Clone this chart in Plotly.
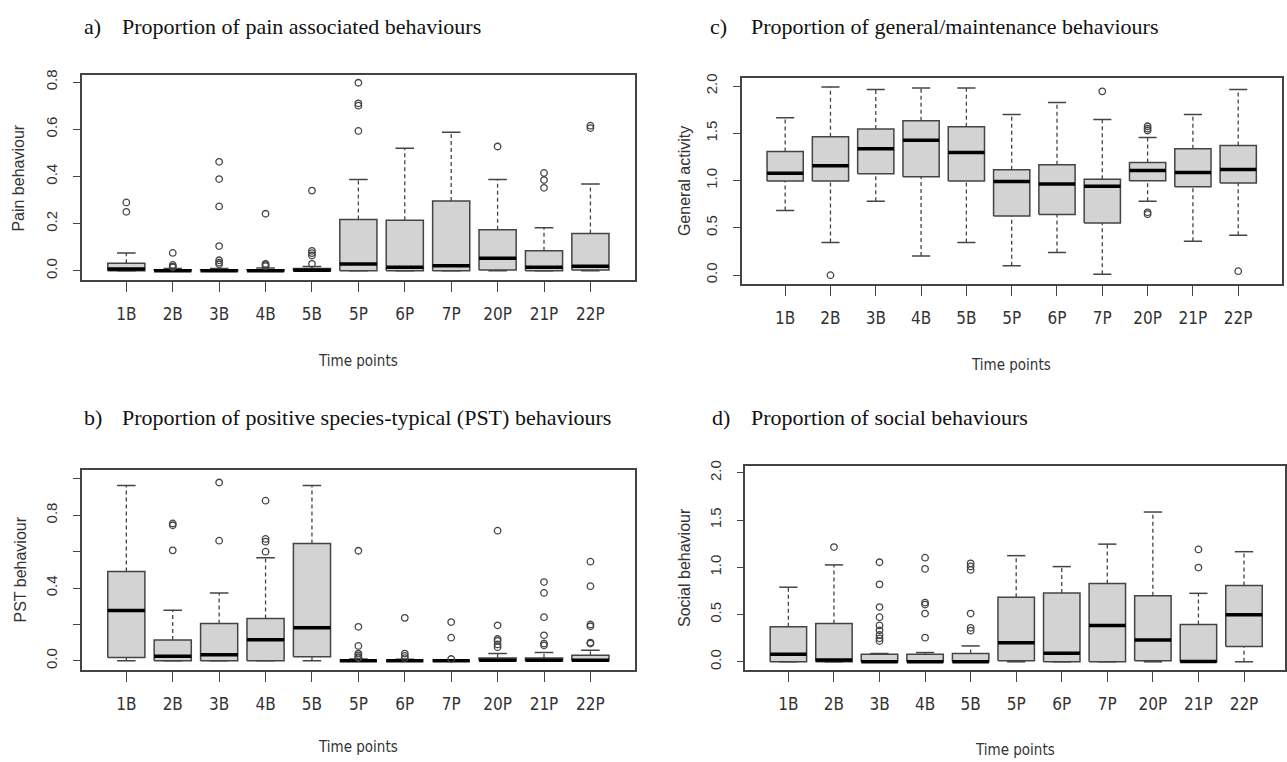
import plotly.graph_objects as go

W, H = 1287, 762

categories = ["1B", "2B", "3B", "4B", "5B", "5P", "6P", "7P", "20P", "21P", "22P"]

# ---- a) pain associated behaviours ----
pain_q1 = [0.0, 0.0, 0.0, 0.0, 0.0, 0.0, 0.0, 0.0, 0.004, 0.0, 0.004]
pain_med = [0.008, 0.0, 0.0, 0.0, 0.003, 0.029, 0.015, 0.022, 0.053, 0.015, 0.02]
pain_q3 = [0.032, 0.005, 0.005, 0.005, 0.01, 0.218, 0.214, 0.296, 0.174, 0.085, 0.158]
pain_lo = [0.0] * 11
pain_hi = [0.076, 0.01, 0.01, 0.012, 0.018, 0.387, 0.52, 0.587, 0.387, 0.183, 0.368]
pain_out = [
    [0.29, 0.25],
    [0.076, 0.025, 0.018, 0.015],
    [0.462, 0.389, 0.273, 0.105, 0.045, 0.035, 0.028],
    [0.242, 0.03, 0.025, 0.02],
    [0.34, 0.085, 0.075, 0.065, 0.03],
    [0.797, 0.71, 0.70, 0.593],
    [],
    [],
    [0.527],
    [0.415, 0.385, 0.352],
    [0.615, 0.605],
]

# ---- b) positive species-typical behaviours ----
pst_q1 = [0.018, 0.0, 0.0, 0.0, 0.022, 0.0, 0.0, 0.0, 0.0, 0.0, 0.0]
pst_med = [0.276, 0.025, 0.033, 0.116, 0.182, 0.0, 0.0, 0.0, 0.003, 0.003, 0.003]
pst_q3 = [0.491, 0.115, 0.205, 0.233, 0.645, 0.003, 0.003, 0.003, 0.015, 0.015, 0.03]
pst_lo = [0.0] * 11
pst_hi = [0.964, 0.278, 0.373, 0.567, 0.964, 0.01, 0.008, 0.005, 0.04, 0.045, 0.058]
pst_out = [
    [],
    [0.755, 0.745, 0.607],
    [0.98, 0.66],
    [0.88, 0.67, 0.655, 0.6],
    [],
    [0.605, 0.187, 0.082, 0.04, 0.03, 0.02, 0.015],
    [0.236, 0.04, 0.027, 0.015],
    [0.213, 0.127, 0.01],
    [0.715, 0.195, 0.12, 0.11, 0.09, 0.075],
    [0.433, 0.373, 0.24, 0.14, 0.095, 0.085],
    [0.545, 0.41, 0.2, 0.19, 0.1, 0.095],
]

# ---- c) general/maintenance behaviours ----
gen_q1 = [0.997, 0.997, 1.073, 1.042, 0.997, 0.626, 0.643, 0.552, 1.0, 0.934, 0.976]
gen_med = [1.077, 1.157, 1.336, 1.427, 1.297, 0.99, 0.965, 0.94, 1.108, 1.087, 1.119]
gen_q3 = [1.308, 1.465, 1.545, 1.633, 1.57, 1.115, 1.168, 1.014, 1.192, 1.336, 1.371]
gen_lo = [0.685, 0.346, 0.783, 0.203, 0.346, 0.101, 0.241, 0.01, 0.783, 0.36, 0.423]
gen_hi = [1.664, 1.99, 1.965, 1.979, 1.979, 1.70, 1.825, 1.647, 1.455, 1.70, 1.965]
gen_out = [[], [0.0], [], [], [], [], [], [1.944], [1.575, 1.55, 1.53, 0.665, 0.645], [], [0.042]]

# ---- d) social behaviours ----
soc_q1 = [0.0, 0.0, 0.0, 0.0, 0.0, 0.01, 0.0, 0.0, 0.01, 0.0, 0.161]
soc_med = [0.08, 0.018, 0.0, 0.0, 0.0, 0.203, 0.091, 0.385, 0.231, 0.003, 0.497]
soc_q3 = [0.371, 0.406, 0.08, 0.08, 0.088, 0.683, 0.728, 0.83, 0.70, 0.396, 0.809]
soc_lo = [0.0] * 11
soc_hi = [0.79, 1.026, 0.088, 0.098, 0.168, 1.124, 1.008, 1.246, 1.586, 0.725, 1.166]
soc_out = [
    [],
    [1.215],
    [1.054, 0.82, 0.58, 0.473, 0.385, 0.333, 0.284, 0.249, 0.22],
    [1.103, 0.984, 0.627, 0.606, 0.511, 0.256],
    [1.043, 1.01, 0.973, 0.511, 0.36, 0.33],
    [], [], [], [],
    [1.19, 0.998],
    [],
]

panel_titles = [
    ("a)", "Proportion of pain associated behaviours"),
    ("b)", "Proportion of positive species-typical (PST) behaviours"),
    ("c)", "Proportion of general/maintenance behaviours"),
    ("d)", "Proportion of social behaviours"),
]
y_titles = ["Pain behaviour", "PST behaviour", "General activity", "Social behaviour"]
x_title = "Time points"

# ---------------- styling / layout geometry (pixels) ----------------
BOX_FILL = "#d3d3d3"
LINE_C = "#444444"
TEXT_C = "#333333"
SANS = "Liberation Sans, Arial, sans-serif"
NARROW = "DejaVu Sans Condensed, Liberation Sans Narrow, Liberation Sans, sans-serif"
SERIF = "Liberation Serif, Times New Roman, serif"

panels = [
    dict(data=(pain_q1, pain_med, pain_q3, pain_lo, pain_hi, pain_out),
         frame=(82.3, 635, 70, 276), xr=[0.05, 11.95], yr=[-0.038, 0.828],
         ytv=[0, 0.2, 0.4, 0.6, 0.8], ytt=["0.0", "0.2", "0.4", "0.6", "0.8"],
         ytitle_xy=(19, 173), xtitle_xy=(358, 358), title_xy=(82, 120, 21)),
    dict(data=(pst_q1, pst_med, pst_q3, pst_lo, pst_hi, pst_out),
         frame=(82.3, 635, 468, 669), xr=[0.05, 11.95], yr=[-0.049, 1.047],
         ytv=[0, 0.2, 0.4, 0.6, 0.8, 1.0], ytt=["0.0", "", "0.4", "", "0.8", ""],
         ytitle_xy=(21, 568), xtitle_xy=(358, 747), title_xy=(82, 120, 415)),
    dict(data=(gen_q1, gen_med, gen_q3, gen_lo, gen_hi, gen_out),
         frame=(742.7, 1282.7, 72.7, 280), xr=[0.05, 11.96], yr=[-0.091, 2.084],
         ytv=[0, 0.5, 1.0, 1.5, 2.0], ytt=["0.0", "0.5", "1.0", "1.5", "2.0"],
         ytitle_xy=(685, 176), xtitle_xy=(1012, 362), title_xy=(709, 750, 21)),
    dict(data=(soc_q1, soc_med, soc_q3, soc_lo, soc_hi, soc_out),
         frame=(746, 1286, 463.3, 669.3), xr=[0.057, 11.9], yr=[-0.087, 2.077],
         ytv=[0, 0.5, 1.0, 1.5, 2.0], ytt=["0.0", "0.5", "1.0", "1.5", "2.0"],
         ytitle_xy=(685, 566), xtitle_xy=(1016, 750), title_xy=(711, 750, 415)),
]

fig = go.Figure()
annotations = []
layout_axes = {}
HALF = 0.4
CAP = 0.2

for k, p in enumerate(panels):
    q1, med, q3, lo, hi, outs = p["data"]
    xa = "x" if k == 0 else f"x{k+1}"
    ya = "y" if k == 0 else f"y{k+1}"
    pos = list(range(1, len(categories) + 1))

    wx, wy, cx, cy, bx, by, mx, my, ox, oy = [], [], [], [], [], [], [], [], [], []
    for i, c in enumerate(pos):
        wx += [c, c, None, c, c, None]
        wy += [q3[i], hi[i], None, lo[i], q1[i], None]
        cx += [c - CAP, c + CAP, None, c - CAP, c + CAP, None]
        cy += [hi[i], hi[i], None, lo[i], lo[i], None]
        bx += [c - HALF, c + HALF, c + HALF, c - HALF, c - HALF, None]
        by += [q1[i], q1[i], q3[i], q3[i], q1[i], None]
        mx += [c - HALF, c + HALF, None]
        my += [med[i], med[i], None]
        for v in outs[i]:
            ox.append(c)
            oy.append(v)

    common = dict(xaxis=xa, yaxis=ya, showlegend=False, hoverinfo="skip")
    fig.add_trace(go.Scatter(x=wx, y=wy, mode="lines",
                             line=dict(color=LINE_C, width=1.3, dash="4px,3px"), **common))
    fig.add_trace(go.Scatter(x=cx, y=cy, mode="lines",
                             line=dict(color=LINE_C, width=1.5), **common))
    fig.add_trace(go.Scatter(x=bx, y=by, mode="lines", fill="toself", fillcolor=BOX_FILL,
                             line=dict(color=LINE_C, width=1.5), **common))
    fig.add_trace(go.Scatter(x=mx, y=my, mode="lines",
                             line=dict(color="black", width=3.5), **common))
    fig.add_trace(go.Scatter(x=ox, y=oy, mode="markers",
                             marker=dict(symbol="circle-open", size=6.5, color=LINE_C,
                                         line=dict(width=1.3, color=LINE_C)), **common))

    l, r, t, b = p["frame"]
    xdom = [l / W, r / W]
    ydom = [1 - b / H, 1 - t / H]
    xkey = "xaxis" if k == 0 else f"xaxis{k+1}"
    ykey = "yaxis" if k == 0 else f"yaxis{k+1}"
    layout_axes[xkey] = dict(
        domain=xdom, range=p["xr"], anchor=ya, tickmode="array", tickvals=pos,
        ticktext=categories, showgrid=False, zeroline=False, showline=True, mirror=True,
        linecolor=LINE_C, linewidth=1.6, ticks="outside", ticklen=10, tickwidth=1.3,
        tickcolor=LINE_C, ticklabelstandoff=8,
        tickfont=dict(family=NARROW, size=17, color=TEXT_C))
    layout_axes[ykey] = dict(
        domain=ydom, range=p["yr"], anchor=xa, tickmode="array", tickvals=p["ytv"],
        ticktext=p["ytt"], showgrid=False, zeroline=False, showline=True, mirror=True,
        linecolor=LINE_C, linewidth=1.6, ticks="outside", ticklen=7, tickwidth=1.3,
        tickcolor=LINE_C, tickangle=-90, ticklabelstandoff=10,
        tickfont=dict(family=SANS, size=15, color=TEXT_C))

    lx, tx, ty = p["title_xy"]
    annotations.append(dict(text=panel_titles[k][0], x=lx / W, y=1 - ty / H, xref="paper",
                            yref="paper", xanchor="left", yanchor="middle", showarrow=False,
                            font=dict(family=SERIF, size=22, color="#111111")))
    annotations.append(dict(text=panel_titles[k][1], x=tx / W, y=1 - ty / H, xref="paper",
                            yref="paper", xanchor="left", yanchor="middle", showarrow=False,
                            font=dict(family=SERIF, size=22, color="#111111")))
    yx, yy = p["ytitle_xy"]
    annotations.append(dict(text=y_titles[k], x=yx / W, y=1 - yy / H, xref="paper",
                            yref="paper", xanchor="center", yanchor="middle", textangle=-90,
                            showarrow=False, font=dict(family=SANS, size=16, color=TEXT_C)))
    xx, xy = p["xtitle_xy"]
    annotations.append(dict(text=x_title, x=xx / W, y=1 - xy / H, xref="paper",
                            yref="paper", xanchor="center", yanchor="middle",
                            showarrow=False, font=dict(family=NARROW, size=15, color=TEXT_C)))

fig.update_layout(
    width=W, height=H, margin=dict(l=0, r=0, t=0, b=0),
    paper_bgcolor="white", plot_bgcolor="white",
    annotations=annotations, **layout_axes)

fig.write_html(
    "out.html",
    config={"displayModeBar": False},
    post_script="document.body.style.margin='0';document.body.style.padding='0';"
                "document.body.style.overflow='hidden';",
)
